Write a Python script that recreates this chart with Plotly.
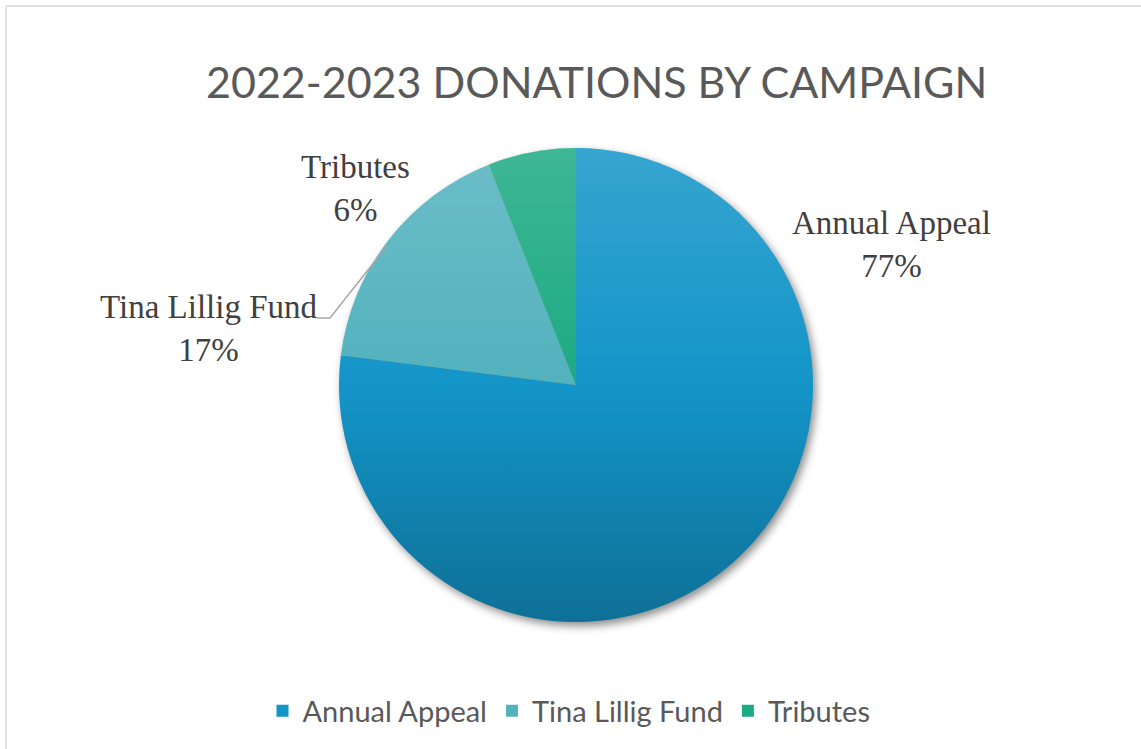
import base64
import plotly.graph_objects as go

# ---- data ----
campaigns = ["Annual Appeal", "Tina Lillig Fund", "Tributes"]
shares = [77, 17, 6]
pct_labels = ["77%", "17%", "6%"]
title_text = "2022-2023 DONATIONS BY CAMPAIGN"

# ---- styling ----
W, H = 1141, 749
slice_colors = ["#1395C8", "#52B2BE", "#1CAA82"]
# pie geometry (pixels)
cx, cy, r = 576, 385, 237
dom_x = [(cx - r) / W, (cx + r) / W]
dom_y = [1 - (cy + r) / H, 1 - (cy - r) / H]


def svg_uri(svg):
    return "data:image/svg+xml;base64," + base64.b64encode(svg.encode()).decode()


pad = 30
side = 2 * (r + pad)
shadow_svg = f"""<svg xmlns='http://www.w3.org/2000/svg' width='{side}' height='{side}' viewBox='0 0 {side} {side}'>
<defs><filter id='b' x='-20%' y='-20%' width='140%' height='140%'><feGaussianBlur stdDeviation='4'/></filter></defs>
<circle cx='{r + pad + 3}' cy='{r + pad + 4}' r='{r}' fill='black' fill-opacity='0.45' filter='url(#b)'/>
</svg>"""

overlay_svg = f"""<svg xmlns='http://www.w3.org/2000/svg' width='{2*r}' height='{2*r}' viewBox='0 0 {2*r} {2*r}'>
<defs><linearGradient id='g' x1='0' y1='0' x2='0' y2='1'>
<stop offset='0' stop-color='white' stop-opacity='0.15'/>
<stop offset='0.5' stop-color='white' stop-opacity='0'/>
<stop offset='0.5' stop-color='black' stop-opacity='0'/>
<stop offset='1' stop-color='black' stop-opacity='0.25'/>
</linearGradient></defs>
<circle cx='{r}' cy='{r}' r='{r}' fill='url(#g)'/>
</svg>"""

fig = go.Figure()
fig.add_trace(go.Pie(
    labels=campaigns,
    values=shares,
    sort=False,
    direction="clockwise",
    rotation=0,
    textinfo="none",
    hoverinfo="label+percent",
    marker=dict(colors=slice_colors, line=dict(width=0)),
    domain=dict(x=dom_x, y=dom_y),
))

label_font = dict(family="Liberation Serif", size=33, color="#404040")
label_pos = {
    "Annual Appeal": (891, 244),
    "Tina Lillig Fund": (208, 329),
    "Tributes": (355, 188),
}
annotations = [
    dict(text=title_text, x=596.5 / W, y=1 - 82 / H, xref="paper", yref="paper",
         xanchor="center", yanchor="middle", showarrow=False,
         font=dict(family="Lato", size=43, color="#595959"))
]
for name, pct in zip(campaigns, pct_labels):
    px, py = label_pos[name]
    annotations.append(dict(text=f"{name}<br>{pct}", x=px / W, y=1 - py / H,
                            xref="paper", yref="paper", showarrow=False,
                            xanchor="center", yanchor="middle",
                            font=label_font, align="center"))

shapes = [
    dict(type="line", xref="paper", yref="paper", x0=6 / W, x1=1, y0=1 - 6 / H, y1=1 - 6 / H,
         line=dict(color="#D9D9D9", width=1.5)),
    dict(type="line", xref="paper", yref="paper", x0=6 / W, x1=6 / W, y0=0, y1=1 - 6 / H,
         line=dict(color="#D9D9D9", width=1.5)),
    dict(type="path", xref="paper", yref="paper",
         path=f"M {317/W} {1-318/H} L {330/W} {1-318/H} L {387/W} {1-246/H}",
         line=dict(color="#A6A6A6", width=1.5)),
]

images = [
    dict(source=svg_uri(shadow_svg), xref="paper", yref="paper",
         x=(cx - r - pad) / W, y=1 - (cy - r - pad) / H,
         sizex=side / W, sizey=side / H, xanchor="left", yanchor="top",
         sizing="stretch", layer="below"),
    dict(source=svg_uri(overlay_svg), xref="paper", yref="paper",
         x=(cx - r) / W, y=1 - (cy - r) / H,
         sizex=2 * r / W, sizey=2 * r / H, xanchor="left", yanchor="top",
         sizing="stretch", layer="above"),
]

fig.update_layout(
    width=W, height=H,
    margin=dict(l=0, r=0, t=0, b=0),
    paper_bgcolor="white",
    plot_bgcolor="white",
    annotations=annotations,
    shapes=shapes,
    images=images,
    showlegend=True,
    legend=dict(orientation="h", x=569 / W, xanchor="center", y=1 - 711 / H,
                yanchor="middle", font=dict(family="Lato", size=29, color="#595959"),
                itemclick=False, itemdoubleclick=False),
)

fig.write_html("out.html",
               config={"displayModeBar": False},
               post_script="document.body.style.margin='0';document.body.style.overflow='hidden';")
